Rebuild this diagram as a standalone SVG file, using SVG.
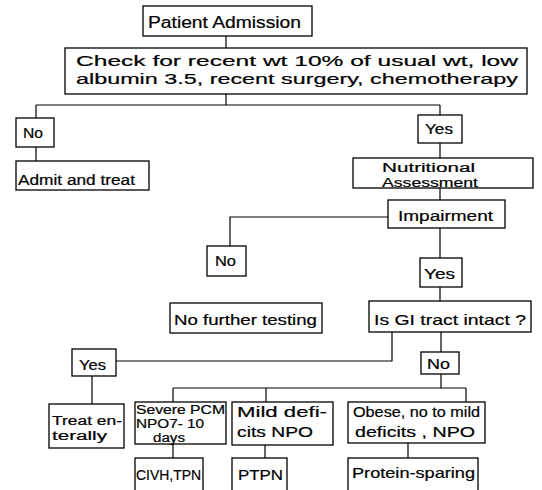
<svg xmlns="http://www.w3.org/2000/svg" width="542" height="490" viewBox="0 0 542 490">
  <style>
    .box { fill: #fff; stroke: #000; stroke-width: 1.3; }
    .wire { fill: none; stroke: #000; stroke-width: 1.2; }
    text { font-family: "Liberation Sans", Arial, sans-serif; font-size: 15px; fill: #000; stroke: #000; stroke-width: 0.2; }
    .lg { font-size: 16px; }
    .sm { font-size: 14px; }
    .xs { font-size: 12.5px; }
    .xxs { font-size: 12px; }
  </style>
  <rect width="542" height="490" fill="#fff"/>

  <!-- connectors -->
  <g id="connectors" class="wire">
    <path d="M226 36 V48"/>
    <path d="M226 94 V105 M36 105 H440 M36 105 V118 M440 105 V115"/>
    <path d="M36 147 V161"/>
    <path d="M440 143 V158"/>
    <path d="M440 188 V200"/>
    <path d="M388 217 H230 V246"/>
    <path d="M440 228 V258"/>
    <path d="M440 287 V301"/>
    <path d="M392 332 V361 H116"/>
    <path d="M441 332 V352"/>
    <path d="M92 376 V404"/>
    <path d="M441 374 V388 M173 388 H466 M173 388 V402 M266 388 V402 M466 388 V402"/>
    <path d="M173 444 V458"/>
    <path d="M265 445 V458"/>
    <path d="M408 443 V458"/>
  </g>

  <g id="patient-admission">
    <rect class="box" x="143" y="6" width="169" height="30"/>
    <text class="lg" x="148" y="28" textLength="153" lengthAdjust="spacingAndGlyphs">Patient Admission</text>
  </g>

  <g id="check">
    <rect class="box" x="65" y="48" width="462" height="46"/>
    <text x="76" y="66" textLength="442" lengthAdjust="spacingAndGlyphs">Check for recent wt  10% of usual wt, low</text>
    <text x="76" y="84" textLength="442" lengthAdjust="spacingAndGlyphs">albumin 3.5, recent surgery, chemotherapy</text>
  </g>

  <g id="no-1">
    <rect class="box" x="16" y="118" width="38" height="29"/>
    <text class="sm" x="23" y="138" textLength="20" lengthAdjust="spacingAndGlyphs">No</text>
  </g>

  <g id="admit-treat">
    <rect class="box" x="16" y="161" width="133" height="29"/>
    <text class="sm" x="18" y="185" textLength="117" lengthAdjust="spacingAndGlyphs">Admit and treat</text>
  </g>

  <g id="yes-1">
    <rect class="box" x="418" y="115" width="44" height="28"/>
    <text class="sm" x="425" y="134" textLength="28" lengthAdjust="spacingAndGlyphs">Yes</text>
  </g>

  <g id="nutritional-assessment">
    <rect class="box" x="353" y="158" width="180" height="30"/>
    <text class="xs" x="382" y="172" textLength="93" lengthAdjust="spacingAndGlyphs">Nutritional</text>
    <text class="xs" x="382" y="187" textLength="96" lengthAdjust="spacingAndGlyphs">Assessment</text>
  </g>

  <g id="impairment">
    <rect class="box" x="388" y="200" width="117" height="28"/>
    <text x="398" y="221" textLength="95" lengthAdjust="spacingAndGlyphs">Impairment</text>
  </g>

  <g id="no-2">
    <rect class="box" x="207" y="246" width="39" height="30"/>
    <text class="sm" x="215" y="266" textLength="21" lengthAdjust="spacingAndGlyphs">No</text>
  </g>

  <g id="yes-2">
    <rect class="box" x="420" y="258" width="42" height="29"/>
    <text class="sm" x="424" y="279" textLength="31" lengthAdjust="spacingAndGlyphs">Yes</text>
  </g>

  <g id="no-further-testing">
    <rect class="box" x="170" y="303" width="152" height="30"/>
    <text x="174" y="325" textLength="143" lengthAdjust="spacingAndGlyphs">No further testing</text>
  </g>

  <g id="gi-tract">
    <rect class="box" x="369" y="301" width="162" height="31"/>
    <text x="374" y="325" textLength="152" lengthAdjust="spacingAndGlyphs">Is GI tract intact ?</text>
  </g>

  <g id="yes-3">
    <rect class="box" x="72" y="349" width="44" height="27"/>
    <text class="sm" x="79" y="370" textLength="27" lengthAdjust="spacingAndGlyphs">Yes</text>
  </g>

  <g id="no-3">
    <rect class="box" x="421" y="352" width="38" height="22"/>
    <text class="sm" x="427" y="369" textLength="23" lengthAdjust="spacingAndGlyphs">No</text>
  </g>

  <g id="treat-enterally">
    <rect class="box" x="49" y="404" width="75" height="44"/>
    <text class="xs" x="52" y="425" textLength="70" lengthAdjust="spacingAndGlyphs">Treat en-</text>
    <text class="xs" x="52" y="440" textLength="55" lengthAdjust="spacingAndGlyphs">terally</text>
  </g>

  <g id="severe-pcm">
    <rect class="box" x="135" y="402" width="91" height="42"/>
    <text class="xxs" x="136" y="414" textLength="89" lengthAdjust="spacingAndGlyphs">Severe PCM</text>
    <text class="xxs" x="136" y="428" textLength="68" lengthAdjust="spacingAndGlyphs">NPO7- 10</text>
    <text class="xxs" x="153" y="442" textLength="32" lengthAdjust="spacingAndGlyphs">days</text>
  </g>

  <g id="mild-deficits">
    <rect class="box" x="232" y="402" width="101" height="43"/>
    <text x="237" y="417" textLength="90" lengthAdjust="spacingAndGlyphs">Mild defi-</text>
    <text x="237" y="437" textLength="76" lengthAdjust="spacingAndGlyphs">cits NPO</text>
  </g>

  <g id="obese">
    <rect class="box" x="348" y="402" width="137" height="41"/>
    <text x="353" y="417" textLength="127" lengthAdjust="spacingAndGlyphs">Obese, no to mild</text>
    <text x="355" y="437" textLength="120" lengthAdjust="spacingAndGlyphs">deficits , NPO</text>
  </g>

  <g id="civh-tpn">
    <rect class="box" x="135" y="458" width="68" height="40"/>
    <text x="136" y="480" textLength="65" lengthAdjust="spacingAndGlyphs">CIVH,TPN</text>
  </g>

  <g id="ptpn">
    <rect class="box" x="232" y="458" width="55" height="40"/>
    <text x="238" y="480" textLength="45" lengthAdjust="spacingAndGlyphs">PTPN</text>
  </g>

  <g id="protein-sparing">
    <rect class="box" x="348" y="458" width="130" height="40"/>
    <text x="352" y="478" textLength="123" lengthAdjust="spacingAndGlyphs">Protein-sparing</text>
  </g>
</svg>
